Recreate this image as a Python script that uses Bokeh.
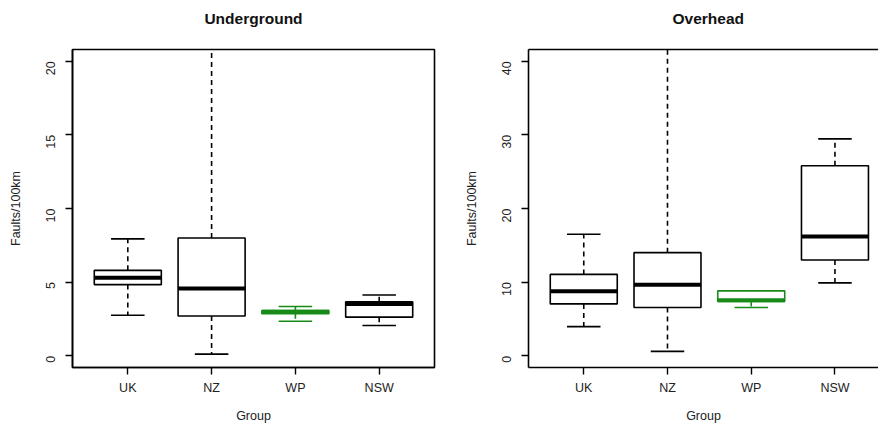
from bokeh.plotting import figure
from bokeh.layouts import row
from bokeh.models import FixedTicker, Range1d, LinearAxis, Title
from bokeh.embed import file_html
from bokeh.resources import INLINE

categories = ["UK", "NZ", "WP", "NSW"]
colors = ["black", "black", "#178a17", "black"]

# Underground: faults per 100 km
ug_low = [2.75, 0.11, 2.34, 2.05]
ug_q1 = [4.83, 2.70, 2.85, 2.62]
ug_med = [5.30, 4.57, 2.98, 3.52]
ug_q3 = [5.80, 8.00, 3.07, 3.66]
ug_high = [7.94, 25.0, 3.34, 4.12]

# Overhead: faults per 100 km
oh_low = [3.95, 0.59, 6.55, 9.90]
oh_q1 = [7.04, 6.55, 7.37, 13.0]
oh_med = [8.77, 9.63, 7.54, 16.2]
oh_q3 = [11.05, 14.0, 8.81, 25.8]
oh_high = [16.5, 45.0, 8.81, 29.46]

FONT = "Liberation Sans"


def make_panel(title, low, q1, med, q3, high, ymax, ticks, width, border_left, x_end,
               full_outline, title_align, title_offset):
    y0 = -0.04 * ymax
    y1 = 1.04 * ymax
    p = figure(width=width, height=425, output_backend="svg", toolbar_location=None,
               x_range=Range1d(0.34, x_end), y_range=Range1d(y0, y1),
               min_border_left=border_left, min_border_right=(6 if full_outline else 0),
               min_border_top=49, min_border_bottom=58,
               x_axis_location=None, y_axis_location=None)
    p.grid.visible = False
    p.background_fill_color = "white"
    p.border_fill_color = "white"
    if full_outline:
        p.outline_line_color = "black"
        p.outline_line_width = 1.6
    else:
        p.outline_line_color = None

    xs = [1, 2, 3, 4]
    hw = 0.4
    cw = 0.2
    for i, x in enumerate(xs):
        c = colors[i]
        p.segment(x0=[x, x], y0=[q3[i], q1[i]], x1=[x, x], y1=[high[i], low[i]],
                  line_color=c, line_width=1.6, line_dash="5 4")
        p.segment(x0=[x - cw, x - cw], y0=[high[i], low[i]], x1=[x + cw, x + cw], y1=[high[i], low[i]],
                  line_color=c, line_width=1.6)
        p.quad(left=[x - hw], right=[x + hw], bottom=[q1[i]], top=[q3[i]],
               fill_color="white", line_color=c, line_width=1.6)
        p.segment(x0=[x - hw], y0=[med[i]], x1=[x + hw], y1=[med[i]],
                  line_color=c, line_width=4)

    yaxis = LinearAxis(ticker=FixedTicker(ticks=ticks), axis_label="Faults/100km")
    xaxis = LinearAxis(ticker=FixedTicker(ticks=xs), axis_label="Group",
                       major_label_overrides={x: c for x, c in zip(xs, categories)})
    for ax in (yaxis, xaxis):
        ax.axis_line_color = "black"
        ax.axis_line_width = 1.6
        ax.major_tick_line_color = "black"
        ax.major_tick_line_width = 1.4
        ax.major_tick_out = 7
        ax.major_tick_in = 0
        ax.minor_tick_line_color = None
        ax.major_label_text_font = FONT
        ax.major_label_text_font_size = "12.5px"
        ax.major_label_text_color = "#222222"
        ax.axis_label_text_font = FONT
        ax.axis_label_text_font_size = "12.5px"
        ax.axis_label_text_font_style = "normal"
        ax.axis_label_text_color = "#222222"
    yaxis.major_label_orientation = 1.5708
    yaxis.major_label_standoff = 15
    yaxis.axis_label_standoff = 16
    xaxis.major_label_standoff = 6
    xaxis.axis_label_standoff = 11
    p.add_layout(yaxis, "left")
    p.add_layout(xaxis, "below")
    if not full_outline:
        top = LinearAxis(ticker=FixedTicker(ticks=[]), major_label_text_font_size="0px")
        top.axis_line_color = "black"
        top.axis_line_width = 1.6
        top.major_tick_line_color = None
        top.minor_tick_line_color = None
        p.add_layout(top, "above")

    p.add_layout(Title(text=" ", text_font_size="6px"), "above")
    p.add_layout(Title(text=title, align=title_align, offset=title_offset, text_font=FONT,
                       text_font_size="15.5px", text_font_style="bold",
                       text_color="#111111"), "above")
    return p


p1 = make_panel("Underground", ug_low, ug_q1, ug_med, ug_q3, ug_high, 20,
                [0, 5, 10, 15, 20], 440, 72, 4.66, True, "center", 0)
p2 = make_panel("Overhead", oh_low, oh_q1, oh_med, oh_q3, oh_high, 40,
                [0, 10, 20, 30, 40], 438, 88, 4.52, False, "left", 144)

layout = row(p1, p2, spacing=0)
open("out.html", "w").write(file_html(layout, INLINE))
